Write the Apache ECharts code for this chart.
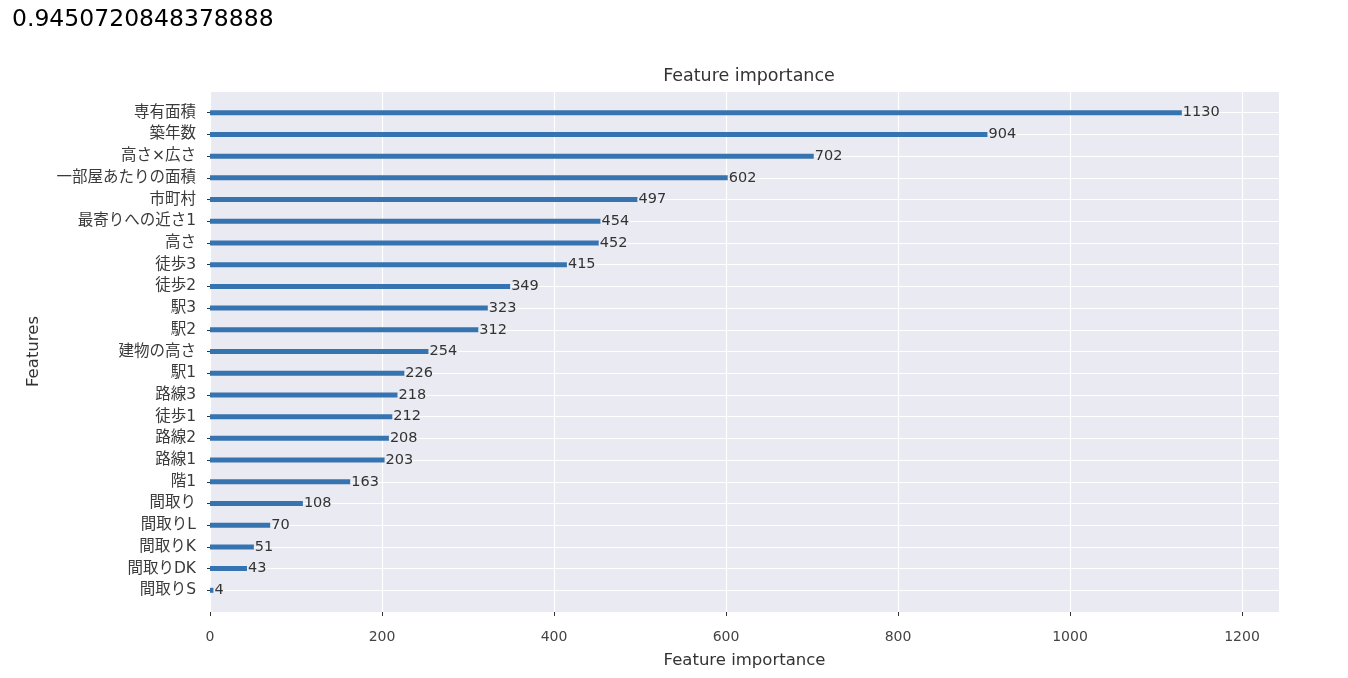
<!DOCTYPE html>
<html>
<head>
<meta charset="utf-8">
<script src="https://cdn.jsdelivr.net/npm/echarts@6/dist/echarts.min.js"></script>
<style>
html,body{margin:0;padding:0;background:#fff;}
#chart{width:1348px;height:678px;}
</style>
</head>
<body>
<div id="chart"></div>
<script>
const scoreText = '0.9450720848378888';
const features = ['専有面積','築年数','高さ×広さ','一部屋あたりの面積','市町村','最寄りへの近さ1','高さ','徒歩3','徒歩2','駅3','駅2','建物の高さ','駅1','路線3','徒歩1','路線2','路線1','階1','間取り','間取りL','間取りK','間取りDK','間取りS'];
const importance = [1130,904,702,602,497,454,452,415,349,323,312,254,226,218,212,208,203,163,108,70,51,43,4];
const xTicks = [0,200,400,600,800,1000,1200];
const xMax = 1243;

const font = '"DejaVu Sans", "Noto Sans CJK JP", sans-serif';
const cats = [''].concat(features, ['']);
const vals = [null].concat(importance, [null]);

const chart = echarts.init(document.getElementById('chart'), null, {renderer:'canvas'});
chart.setOption({
  animation:false,
  backgroundColor:'#ffffff',
  textStyle:{fontFamily:font},
  title:{
    text:'Feature importance',
    left:744, top:63, textAlign:'center',
    textStyle:{fontFamily:font, fontSize:17.5, fontWeight:'normal', color:'#333'}
  },
  graphic:[{
    type:'text', left:12, top:8,
    style:{text:scoreText, font:'23.5px "DejaVu Sans", sans-serif', fill:'#000'}
  }],
  grid:{left:210, right:69, top:91, bottom:66, show:true, backgroundColor:'#EAEAF2', borderWidth:0},
  xAxis:{
    type:'value', min:0, max:xMax,
    name:'Feature importance', nameLocation:'middle', nameGap:40,
    nameTextStyle:{fontFamily:font, fontSize:16.5, color:'#333'},
    axisLine:{show:false},
    axisTick:{show:true, length:4, lineStyle:{color:'#333'}, customValues:xTicks},
    axisLabel:{fontFamily:font, fontSize:14, color:'#444', margin:18, customValues:xTicks, formatter:function(v){return String(v);}},
    splitLine:{show:true, lineStyle:{color:'#ffffff', width:1.2}}
  },
  yAxis:{
    type:'category', data:cats, inverse:true, boundaryGap:false,
    name:'Features', nameLocation:'middle', nameRotate:90, nameGap:168,
    nameTextStyle:{fontFamily:font, fontSize:16.5, color:'#333'},
    axisLine:{show:false},
    axisTick:{show:true, length:3, lineStyle:{color:'#333'}, interval:function(i, v){return v !== '';}},
    axisLabel:{fontFamily:font, fontSize:15.5, color:'#3a3a3a', margin:14, interval:0},
    splitLine:{show:true, interval:0, lineStyle:{color:'#ffffff', width:1.2}}
  },
  series:[{
    type:'bar', data:vals, barWidth:5,
    itemStyle:{color:'#3674B1'},
    label:{show:true, position:'right', distance:1, fontFamily:font, fontSize:14.5, color:'#333'}
  }]
});
</script>
</body>
</html>
